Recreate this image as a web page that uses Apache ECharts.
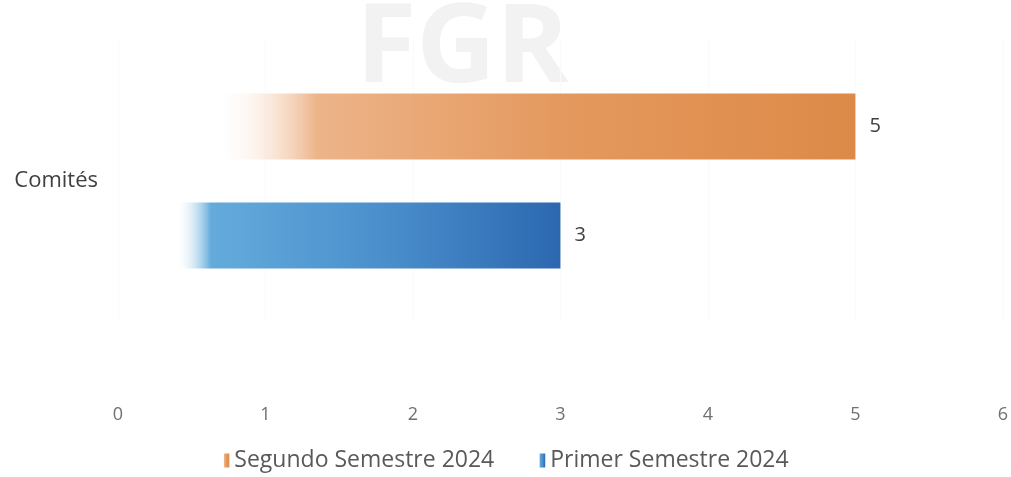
<!DOCTYPE html>
<html>
<head>
<meta charset="utf-8">
<script src="https://cdn.jsdelivr.net/npm/echarts@6/dist/echarts.min.js"></script>
<style>
  html, body { margin: 0; padding: 0; background: #fff; }
  #chart { width: 1011px; height: 477px; }
</style>
</head>
<body>
<div id="chart"></div>
<script>
// datos
const categorias = ['Comités']
const segundoSemestre = [5]
const primerSemestre = [3]
const nombres = ['Segundo Semestre 2024', 'Primer Semestre 2024']

const chart = echarts.init(document.getElementById('chart'))

// degradado que se desvanece hacia la izquierda
const degradado = (claro, medio, oscuro, inicio, fin) => ({
  type: 'linear', x: 0, y: 0, x2: 1, y2: 0,
  colorStops: [
    { offset: 0, color: 'rgba(255,255,255,0)' },
    { offset: inicio, color: 'rgba(255,255,255,0)' },
    { offset: fin, color: claro },
    { offset: 0.6, color: medio },
    { offset: 1, color: oscuro }
  ]
})

const option = {
  animation: false,
  textStyle: { fontFamily: 'Open Sans' },
  graphic: [{
    type: 'text',
    left: 356,
    top: -4,
    silent: true,
    z: -1,
    style: {
      text: 'FGR',
      font: 'bold 110px "Open Sans"',
      fill: '#f2f2f2'
    }
  }],
  legend: {
    data: nombres,
    bottom: 0,
    left: 'center',
    icon: 'rect',
    itemWidth: 7,
    itemHeight: 14,
    itemGap: 44,
    textStyle: { color: '#595959', fontSize: 23 }
  },
  grid: { left: 118, right: 8, top: 40, bottom: 155 },
  xAxis: {
    type: 'value',
    min: 0,
    max: 6,
    interval: 1,
    axisLine: { show: false },
    axisTick: { show: false },
    splitLine: { show: true, lineStyle: { color: '#fafafa' } },
    axisLabel: { color: '#707070', fontSize: 18, margin: 84 }
  },
  yAxis: {
    type: 'category',
    data: categorias,
    axisLine: { show: false },
    axisTick: { show: false },
    axisLabel: { color: '#404040', fontSize: 22, margin: 20 }
  },
  series: [
    {
      name: nombres[0],
      type: 'bar',
      data: segundoSemestre,
      barWidth: 66,
      barGap: '65%',
      itemStyle: { color: degradado('#EDB489', '#E4995E', '#DD8A48', 0.13, 0.27) },
      label: { show: true, position: 'right', distance: 14, color: '#404040', fontSize: 20 }
    },
    {
      name: nombres[1],
      type: 'bar',
      data: primerSemestre,
      barWidth: 66,
      barGap: '65%',
      itemStyle: { color: degradado('#64ABDC', '#4A8FCC', '#2C68B0', 0.13, 0.21) },
      label: { show: true, position: 'right', distance: 14, color: '#404040', fontSize: 20 }
    }
  ]
}

chart.setOption(option)
</script>
</body>
</html>
